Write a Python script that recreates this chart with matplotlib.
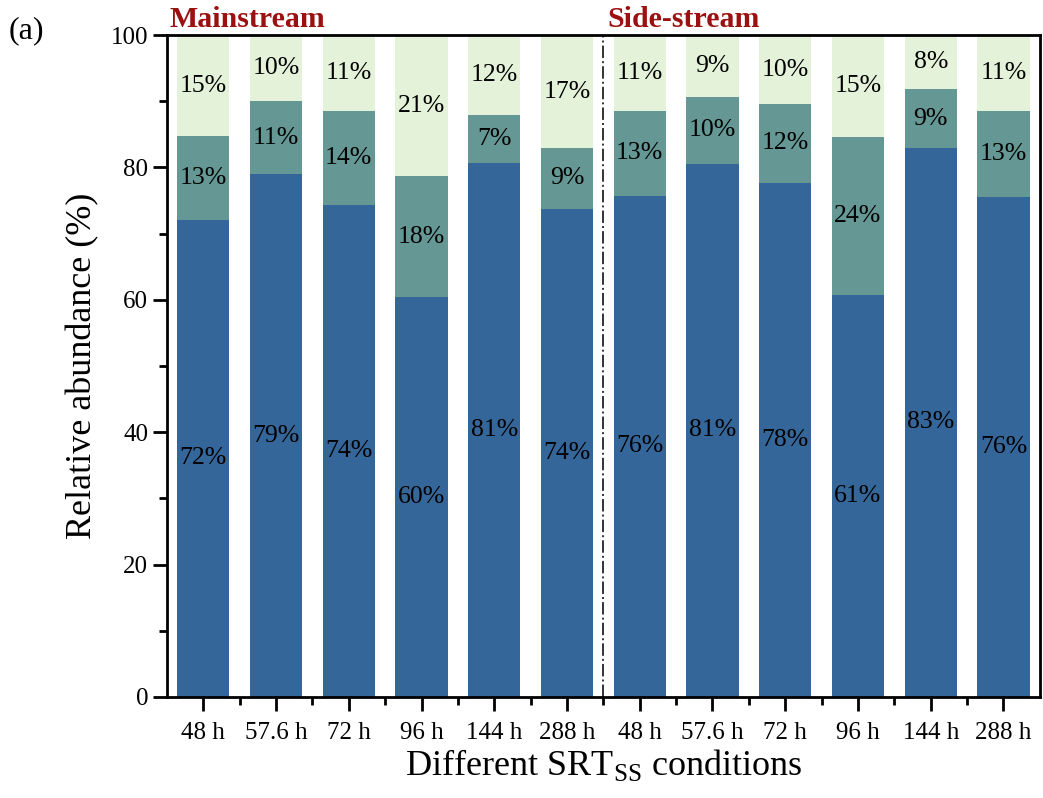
import numpy as np
import matplotlib.pyplot as plt

plt.rcParams['font.family'] = ['Liberation Serif', 'DejaVu Serif']
plt.rcParams['mathtext.fontset'] = 'custom'
plt.rcParams['mathtext.rm'] = 'Liberation Serif'

# SRT conditions for the mainstream and side-stream reactors
conditions = ['48 h', '57.6 h', '72 h', '96 h', '144 h', '288 h',
              '48 h', '57.6 h', '72 h', '96 h', '144 h', '288 h']

# relative abundance of the three groups (%)
bottom_vals = [72.1, 79.0, 74.4, 60.4, 80.7, 73.8, 75.7, 80.6, 77.7, 60.8, 83.0, 75.6]
middle_vals = [12.6, 11.0, 14.2, 18.3, 7.2, 9.1, 12.9, 10.1, 11.9, 23.8, 8.8, 13.0]
top_vals = [15.3, 10.0, 11.4, 21.3, 12.1, 17.1, 11.4, 9.3, 10.4, 15.4, 8.2, 11.4]

c_bottom = '#346699'
c_middle = '#659794'
c_top = '#E3F2D8'

x = np.arange(len(conditions))
w = 0.72

fig = plt.figure(figsize=(10.43, 7.98), dpi=100)
ax = fig.add_axes([0.160, 0.1266, 0.837, 0.8294])

b1 = np.array(bottom_vals)
b2 = b1 + np.array(middle_vals)
ax.bar(x, bottom_vals, w, color=c_bottom, zorder=2)
ax.bar(x, middle_vals, w, bottom=b1, color=c_middle, zorder=2)
ax.bar(x, top_vals, w, bottom=b2, color=c_top, zorder=2)

for i in range(len(x)):
    ax.text(x[i], bottom_vals[i] / 2, '%.0f%%' % bottom_vals[i],
            ha='center', va='center', fontsize=18.5, zorder=3)
    ax.text(x[i], b1[i] + middle_vals[i] / 2, '%.0f%%' % middle_vals[i],
            ha='center', va='center', fontsize=18.5, zorder=3)
    ax.text(x[i], b2[i] + top_vals[i] / 2, '%.0f%%' % top_vals[i],
            ha='center', va='center', fontsize=18.5, zorder=3)

# divider between the two reactors
ax.axvline(5.5, color='#333333', lw=1.4, ls='-.', zorder=1)

ax.text(-0.47, 101.2, 'Mainstream', color='#9B1010', fontsize=21.5,
        fontweight='bold', ha='left', va='baseline')
ax.text(5.55, 101.2, 'Side-stream', color='#9B1010', fontsize=21.5,
        fontweight='bold', ha='left', va='baseline')
fig.text(0.008, 0.962, '(a)', fontsize=23, ha='left', va='center')

ax.set_xlim(-0.5, 11.5)
ax.set_ylim(0, 100)
ax.set_xticks(x)
ax.set_xticklabels(conditions)
ax.set_xticks(np.arange(0.5, 11, 1), minor=True)
ax.set_yticks([0, 20, 40, 60, 80, 100])
ax.set_yticks([10, 30, 50, 70, 90], minor=True)

ax.tick_params(axis='both', which='major', direction='out', length=10,
               width=2, labelsize=18)
ax.tick_params(axis='both', which='minor', direction='out', length=6, width=2)
ax.tick_params(axis='x', which='major', pad=8)
for s in ax.spines.values():
    s.set_linewidth(2)

ax.set_ylabel('Relative abundance (%)', fontsize=26, labelpad=8)
ax.set_xlabel('Different SRT$_{\\mathrm{SS}}$ conditions', fontsize=26, labelpad=2)

plt.savefig('out.png', dpi=100)
